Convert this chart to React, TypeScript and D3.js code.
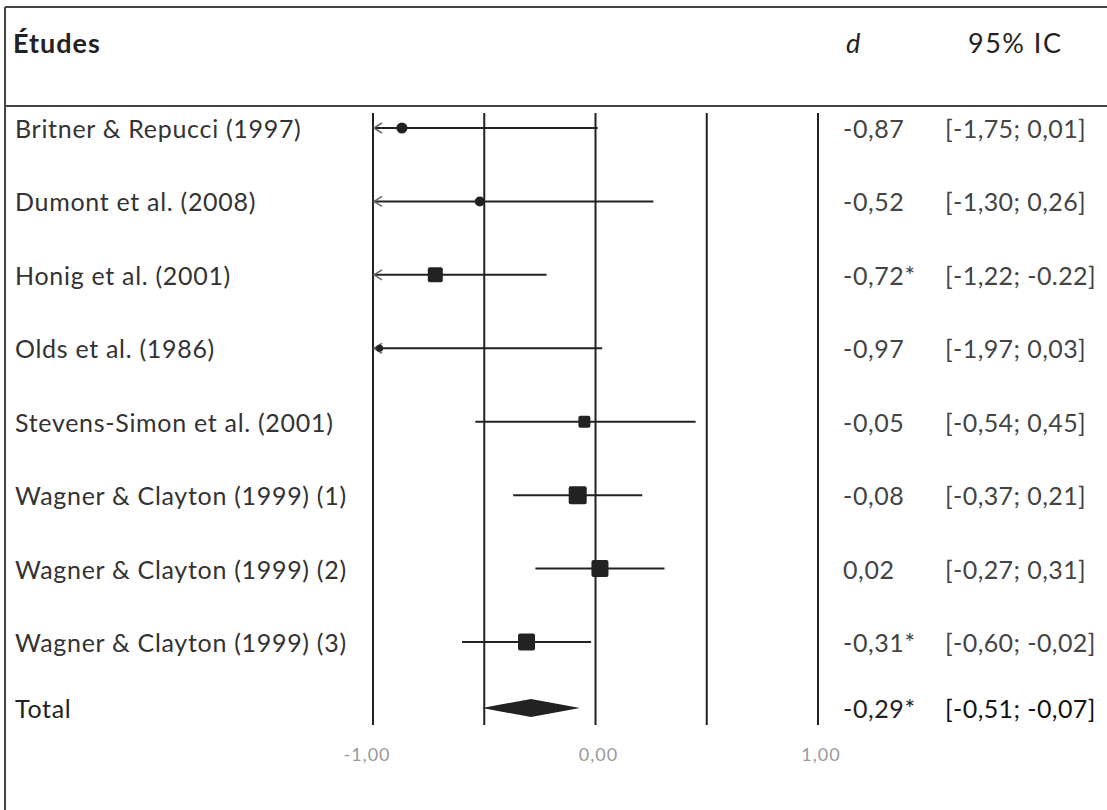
import React, { useEffect, useRef } from 'react';
import * as d3 from 'd3';

// studies, effect sizes (d) and 95% CI
const studies = [
  "Britner & Repucci (1997)",
  "Dumont et al. (2008)",
  "Honig et al. (2001)",
  "Olds et al. (1986)",
  "Stevens-Simon et al. (2001)",
  "Wagner & Clayton (1999) (1)",
  "Wagner & Clayton (1999) (2)",
  "Wagner & Clayton (1999) (3)",
];
const dValues = [-0.87, -0.52, -0.72, -0.97, -0.05, -0.08, 0.02, -0.31];
const ciLow = [-1.75, -1.30, -1.22, -1.97, -0.54, -0.37, -0.27, -0.60];
const ciHigh = [0.01, 0.26, -0.22, 0.03, 0.45, 0.21, 0.31, -0.02];
const weights = [11, 10, 15, 7, 12, 18, 17, 17]; // marker size (px)
const dLabels = ["-0,87", "-0,52", "-0,72*", "-0,97", "-0,05", "-0,08", "0,02", "-0,31*"];
const ciLabels = [
  "[-1,75; 0,01]", "[-1,30; 0,26]", "[-1,22; -0.22]", "[-1,97; 0,03]",
  "[-0,54; 0,45]", "[-0,37; 0,21]", "[-0,27; 0,31]", "[-0,60; -0,02]",
];

const total = { d: -0.29, low: -0.51, high: -0.07, dLabel: "-0,29*", ciLabel: "[-0,51; -0,07]" };

const gridValues = [-1, -0.5, 0, 0.5, 1];
const tickValues = [-1, 0, 1];
const tickLabels = ["-1,00", "0,00", "1,00"];

const App = () => {
  const svgRef = useRef<SVGSVGElement>(null);

  useEffect(() => {
    const svg = d3.select(svgRef.current);
    svg.selectAll("*").remove();

    const width = 1107;
    const height = 810;
    const font = "Lato, 'Open Sans', sans-serif";
    const fs = 25;
    const ls = 0.7;

    const x = d3.scaleLinear().domain([-1, 1]).range([373, 818]);
    const y = d3.scalePoint().domain(studies).range([128, 642]);
    const totalY = 708;
    const plotTop = 113;
    const plotBottom = 725;
    const textShift = 10;

    // frame
    svg.append("line").attr("x1", 5).attr("x2", width).attr("y1", 7).attr("y2", 7)
      .attr("stroke", "#444").attr("stroke-width", 2);
    svg.append("line").attr("x1", 5).attr("x2", width).attr("y1", 106).attr("y2", 106)
      .attr("stroke", "#444").attr("stroke-width", 2);
    svg.append("line").attr("x1", 5).attr("x2", 5).attr("y1", 7).attr("y2", height)
      .attr("stroke", "#444").attr("stroke-width", 2);

    // header
    svg.append("text").attr("x", 13).attr("y", 53).text("Études")
      .attr("font-family", font).attr("font-size", 27).attr("font-weight", "bold")
      .attr("letter-spacing", 1).attr("fill", "#222");
    svg.append("text").attr("x", 846).attr("y", 53).text("d")
      .attr("font-family", font).attr("font-size", 27).attr("font-style", "italic").attr("fill", "#222");
    svg.append("text").attr("x", 968).attr("y", 53).text("95% IC")
      .attr("font-family", font).attr("font-size", 27)
      .attr("letter-spacing", 1.5).attr("fill", "#222");

    // vertical grid lines
    svg.append("g").selectAll("line").data(gridValues).enter().append("line")
      .attr("x1", d => x(d)).attr("x2", d => x(d))
      .attr("y1", plotTop).attr("y2", plotBottom)
      .attr("stroke", "#222").attr("stroke-width", 2);

    // tick labels
    svg.append("g").selectAll("text").data(tickValues).enter().append("text")
      .attr("x", (d, i) => x(d) + (i === 0 ? -6 : 3)).attr("y", 761)
      .attr("text-anchor", "middle")
      .attr("font-family", font).attr("font-size", 18).attr("letter-spacing", 1).attr("fill", "#999")
      .text((d, i) => tickLabels[i]);

    const rows = studies.map((s, i) => ({
      name: s, d: dValues[i], low: ciLow[i], high: ciHigh[i],
      size: weights[i], dLabel: dLabels[i], ciLabel: ciLabels[i],
    }));

    const clampX = (v: number) => x(Math.max(-1, Math.min(1, v)));

    const g = svg.append("g");
    const row = g.selectAll("g").data(rows).enter().append("g");

    // CI lines
    row.append("line")
      .attr("x1", d => clampX(d.low)).attr("x2", d => clampX(d.high))
      .attr("y1", d => y(d.name)!).attr("y2", d => y(d.name)!)
      .attr("stroke", "#222").attr("stroke-width", 2);

    // arrow for clipped intervals
    row.filter(d => d.low < -1).append("path")
      .attr("d", d => {
        const yy = y(d.name)!;
        const x0 = x(-1);
        return `M${x0 + 9},${yy - 5} L${x0 + 1},${yy} L${x0 + 9},${yy + 5}`;
      })
      .attr("fill", "none").attr("stroke", "#666").attr("stroke-width", 1.5);

    // markers
    row.append("rect")
      .attr("x", d => x(d.d) - d.size / 2)
      .attr("y", d => y(d.name)! - d.size / 2)
      .attr("width", d => d.size).attr("height", d => d.size)
      .attr("rx", d => d.size < 12 ? d.size / 2 : 2)
      .attr("fill", "#222");

    // labels
    row.append("text").attr("x", 15).attr("y", d => y(d.name)! + textShift)
      .attr("font-family", font).attr("font-size", fs).attr("letter-spacing", ls).attr("fill", "#333")
      .text(d => d.name);
    row.append("text").attr("x", 843).attr("y", d => y(d.name)! + textShift)
      .attr("font-family", font).attr("font-size", fs).attr("letter-spacing", 0.6).attr("fill", "#444")
      .text(d => d.dLabel);
    row.append("text").attr("x", 945).attr("y", d => y(d.name)! + textShift)
      .attr("font-family", font).attr("font-size", fs).attr("letter-spacing", 0.4).attr("fill", "#444")
      .text(d => d.ciLabel);

    // total diamond
    const diamond = d3.line()([
      [x(total.low), totalY],
      [x(total.d), totalY - 9],
      [x(total.high), totalY],
      [x(total.d), totalY + 9],
    ]) + "Z";
    svg.append("path").attr("d", diamond).attr("fill", "#222");

    svg.append("text").attr("x", 15).attr("y", totalY + 10)
      .attr("font-family", font).attr("font-size", fs).attr("letter-spacing", ls).attr("fill", "#222").text("Total");
    svg.append("text").attr("x", 843).attr("y", totalY + 10)
      .attr("font-family", font).attr("font-size", fs).attr("letter-spacing", 0.6).attr("fill", "#222").text(total.dLabel);
    svg.append("text").attr("x", 945).attr("y", totalY + 10)
      .attr("font-family", font).attr("font-size", fs).attr("letter-spacing", 0.4).attr("fill", "#111").text(total.ciLabel);
  }, []);

  return (
    <div style={{ position: 'absolute', left: 0, top: 0 }}>
      <svg ref={svgRef} width={1107} height={810} style={{ display: 'block', background: '#fff' }}></svg>
    </div>
  );
};

export default App;
